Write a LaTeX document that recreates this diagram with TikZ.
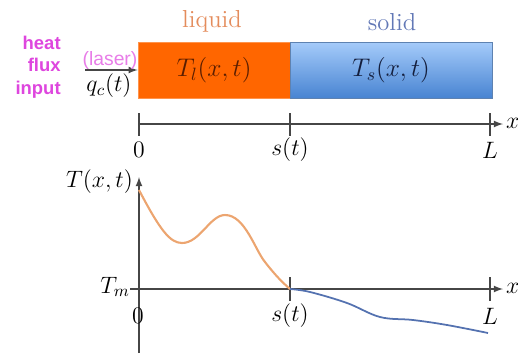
\RequirePackage{fix-cm}
\documentclass[tikz,border=0pt]{standalone}
\usepackage{fontspec}
\setsansfont{Liberation Sans}

\definecolor{heatmag}{RGB}{222,70,222}
\definecolor{lasermag}{RGB}{232,125,232}
\definecolor{liqfill}{RGB}{255,102,0}
\definecolor{liqtext}{RGB}{228,140,92}
\definecolor{liqdark}{RGB}{90,30,0}
\definecolor{soltext}{RGB}{98,120,182}
\definecolor{soldark}{RGB}{20,30,60}
\definecolor{soltop}{RGB}{165,203,250}
\definecolor{solbottom}{RGB}{72,132,210}
\definecolor{liqcurve}{RGB}{236,165,112}
\definecolor{solcurve}{RGB}{84,114,176}
\definecolor{axisgray}{RGB}{70,70,70}

\tikzset{
  bar/.style={rectangle,inner sep=0pt,minimum height=1.12cm},
  mathlbl/.style={inner sep=1pt,font=\fontsize{13.5}{16}\selectfont},
  phaselbl/.style={inner sep=1pt,font=\fontsize{14}{16}\selectfont}
}

\begin{document}
\begin{tikzpicture}[x=0.02cm,y=-0.02cm,>=latex]
\useasboundingbox (0,0) rectangle (518,353);

\node[phaselbl,text=liqtext] (liqname) at (212,21) {liquid};
\node[phaselbl,text=soltext] (solname) at (392,22) {solid};

\node[bar,fill=liqfill,draw=liqfill!70!white,minimum width=3.04cm,text=liqdark] (liq) at (214,70)
  {\fontsize{14.5}{17}\selectfont$T_l(x,t)$};
\node[bar,top color=soltop,bottom color=solbottom,draw=solbottom!60!gray,minimum width=4.04cm,text=soldark] (sol) at (391,70)
  {\fontsize{14.5}{17}\selectfont$T_s(x,t)$};

\node[align=right,anchor=east,inner sep=0pt,text=heatmag,
  font=\sffamily\bfseries\fontsize{10.5}{12.8}\selectfont] (heat) at (61,67) {heat\\flux\\input};
\coordinate (laserin) at (85,70);
\draw[->,axisgray,line width=0.8pt] (laserin) -- (liq.west);
\node[text=lasermag,font=\sffamily\fontsize{11}{13}\selectfont,inner sep=0pt] (laser) at (110,60) {(laser)};
\node[mathlbl] (qc) at (109,86) {$q_c(t)$};

\coordinate (top0) at (139,124);
\coordinate (topend) at (503,124);
\draw[->,axisgray,line width=0.8pt] (top0) -- (topend);
\foreach \x/\lbl/\nm in {139/0/tzero,290/s(t)/ts,490/L/tL}{
  \draw[axisgray,line width=0.8pt] (\x,113) -- (\x,136);
  \node[mathlbl] (\nm) at (\x,150) {$\lbl$};
}
\node[mathlbl,anchor=west] (tx) at (504,123) {$x$};

\coordinate (vbot) at (139,353);
\coordinate (vtop) at (139,177);
\coordinate (hstart) at (130,289);
\coordinate (hend) at (503,289);
\draw[->,axisgray,line width=0.8pt] (vbot) -- (vtop);
\draw[->,axisgray,line width=0.8pt] (hstart) -- (hend);
\foreach \x in {290,490}{
  \draw[axisgray,line width=0.8pt] (\x,277) -- (\x,301);
}
\node[mathlbl,anchor=east] (Tlbl) at (135,182) {$T(x,t)$};
\node[mathlbl,anchor=east] (Tm) at (132,287) {$T_m$};
\node[mathlbl] (bzero) at (138,316) {$0$};
\node[mathlbl] (bs) at (290,316) {$s(t)$};
\node[mathlbl] (bL) at (490,316) {$L$};
\node[mathlbl,anchor=west] (bx) at (504,288) {$x$};

\draw[liqcurve,line width=1.2pt] (139,190) .. controls (160,230) and (170,243) .. (182,243)
  .. controls (200,243) and (210,215) .. (225,215)
  .. controls (245,215) and (255,250) .. (265,262)
  .. controls (275,275) and (283,283) .. (290,289);
\draw[solcurve,line width=1pt] plot[smooth,tension=0.6] coordinates
  {(290,289) (310,292) (347,303) (380,317) (413,320) (447,325) (488,333)};
\end{tikzpicture}
\end{document}
